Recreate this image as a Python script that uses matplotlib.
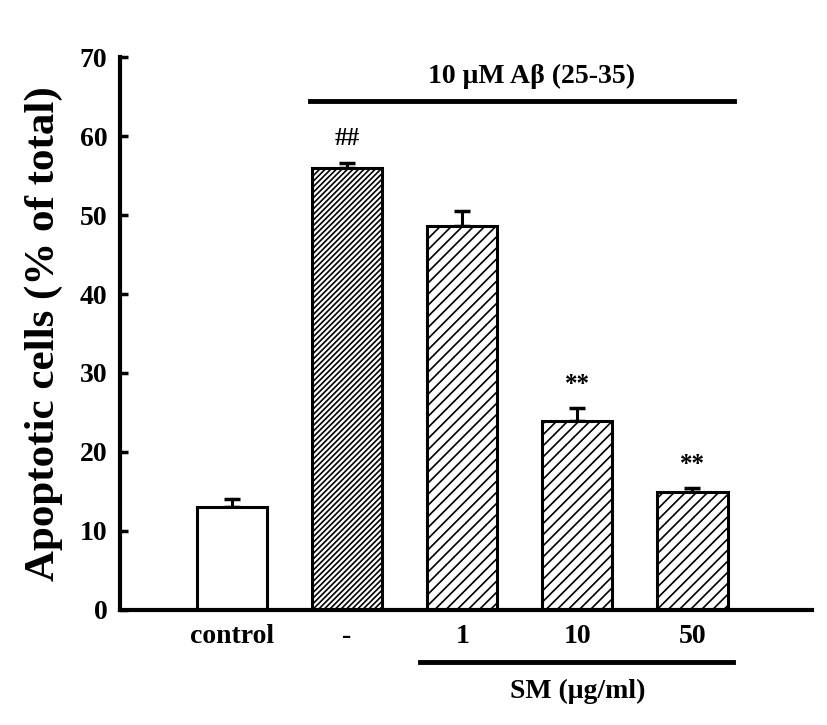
import numpy as np
import matplotlib.pyplot as plt

# данные со снимка
groups = ["control", "-", "1", "10", "50"]
values = [13.0, 56.0, 48.6, 23.9, 14.9]
errors = [1.0, 0.6, 1.9, 1.6, 0.5]
marks = ["", "##", "", "**", "**"]
hatches = ["", "//////", "///", "///", "///"]

plt.rcParams['font.family'] = ['Liberation Serif', 'DejaVu Serif']
plt.rcParams['font.weight'] = 'bold'
plt.rcParams['hatch.linewidth'] = 1.2

fig = plt.figure(figsize=(8.27, 7.25), dpi=100)
ax = fig.add_axes([0.145, 0.159, 0.837, 0.762])

x = np.arange(len(groups))
for i in range(len(groups)):
    ax.bar(x[i], values[i], width=0.61, color='white', edgecolor='black',
           linewidth=2.2, hatch=hatches[i], zorder=2)
    ax.errorbar(x[i], values[i], yerr=[[0], [errors[i]]], fmt='none',
                ecolor='black', elinewidth=2.2, capsize=6, capthick=2.5, zorder=1)
    if marks[i]:
        ax.text(x[i], values[i] + errors[i] + 1.6, marks[i], ha='center', va='bottom',
                fontsize=18, fontweight='bold')

ax.set_xlim(-0.974, 5.04)
ax.set_ylim(0, 70)
ax.set_yticks(range(0, 71, 10))
ax.set_xticks(x)
ax.set_xticklabels(groups, fontsize=20, fontweight='bold')
ax.tick_params(axis='x', length=0, pad=10)
ax.tick_params(axis='y', direction='in', length=5.5, width=2.5, labelsize=20, pad=9)
for lbl in ax.get_yticklabels():
    lbl.set_fontweight('bold')

ax.spines['top'].set_visible(False)
ax.spines['right'].set_visible(False)
ax.spines['left'].set_linewidth(3)
ax.spines['bottom'].set_linewidth(3)

ax.set_ylabel("Apoptotic cells (% of total)", fontsize=31, fontweight='bold', labelpad=12)

# линия Aβ сверху
ax.plot([0.68, 4.36], [64.4, 64.4], color='black', lw=3.5, clip_on=False)
ax.text(2.6, 67.6, "10 \u03bcM A\u03b2 (25-35)", ha='center', va='center',
        fontsize=20, fontweight='bold')

# линия SM снизу
ax.plot([1.63, 4.35], [-6.6, -6.6], color='black', lw=3.5, clip_on=False)
ax.text(3.0, -10.4, "SM (\u03bcg/ml)", ha='center', va='center',
        fontsize=20, fontweight='bold', clip_on=False)

fig.savefig('out.png', dpi=100)
